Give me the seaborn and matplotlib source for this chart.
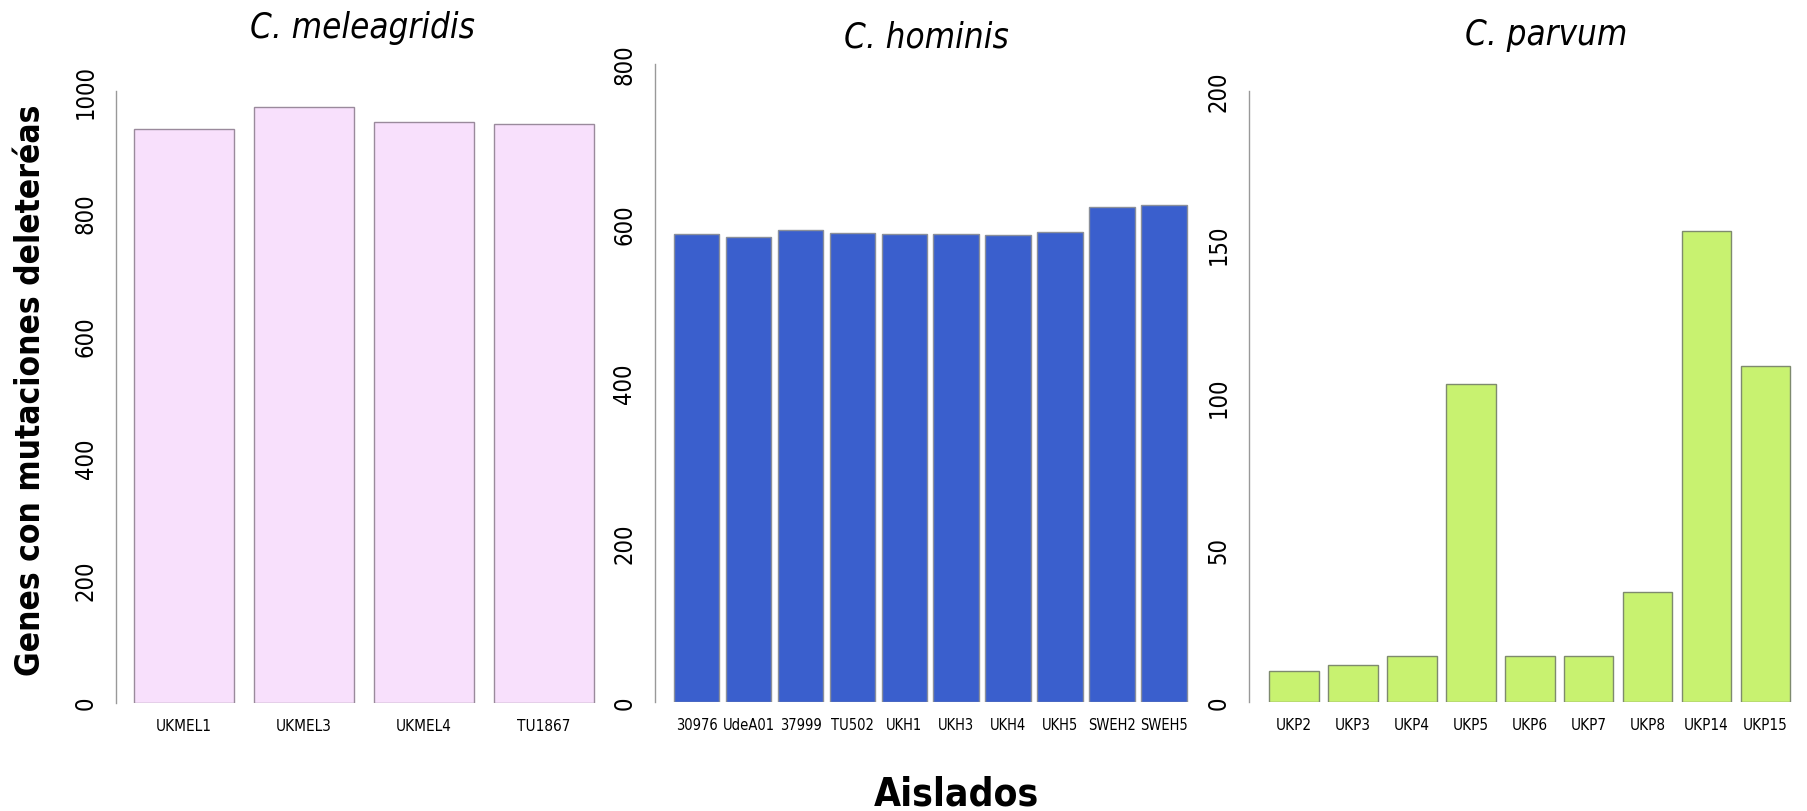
import matplotlib
matplotlib.use("Agg")
import matplotlib.pyplot as plt
import seaborn as sns
import pandas as pd

sns.set_style("white")
plt.rcParams['font.family'] = ['DejaVu Sans']
plt.rcParams['text.color'] = 'black'
plt.rcParams['xtick.color'] = 'black'
plt.rcParams['ytick.color'] = 'black'

# ---- data ----
mel_isolates = ["UKMEL1", "UKMEL3", "UKMEL4", "TU1867"]
mel_values = [937, 974, 949, 946]

hom_isolates = ["30976", "UdeA01", "37999", "TU502", "UKH1", "UKH3", "UKH4", "UKH5", "SWEH2", "SWEH5"]
hom_values = [587, 583, 591, 588, 587, 587, 585, 589, 620, 623]

par_isolates = ["UKP2", "UKP3", "UKP4", "UKP5", "UKP6", "UKP7", "UKP8", "UKP14", "UKP15"]
par_values = [10, 12, 15, 104, 15, 15, 36, 154, 110]

titles = ["C. meleagridis", "C. hominis", "C. parvum"]
y_label = "Genes con mutaciones deleteréas"
x_label = "Aislados"

W, H = 1807, 812
fig = plt.figure(figsize=(W / 100, H / 100), dpi=100)

def px_axes(left, right, bottom, top):
    return fig.add_axes([left / W, (H - bottom) / H, (right - left) / W, (bottom - top) / H])

panels = [
    dict(names=mel_isolates, vals=mel_values, color="#F8E0FC", edge="#9A8A9C",
         box=(116, 612, 703.5, 91.7), xlim=(-0.567, 3.567), width=0.833, ymax=1000,
         ticks=[0, 200, 400, 600, 800, 1000], title_xy=(362, 38), xfs=11),
    dict(names=hom_isolates, vals=hom_values, color="#3A5FCD", edge="#8A8F9A",
         box=(654.5, 1206, 703, 64.7), xlim=(-0.813, 9.813), width=0.877, ymax=800,
         ticks=[0, 200, 400, 600, 800], title_xy=(926, 47), xfs=10.5),
    dict(names=par_isolates, vals=par_values, color="#C8F270", edge="#7E8A6E",
         box=(1248.5, 1792, 703, 91.7), xlim=(-0.773, 8.45), width=0.84, ymax=200,
         ticks=[0, 50, 100, 150, 200], title_xy=(1546, 45), xfs=11),
]

for i, p in enumerate(panels):
    l, r, b, t = p["box"]
    ax = px_axes(l, r, b, t)
    df = pd.DataFrame({"isolate": p["names"], "value": p["vals"]})
    sns.barplot(data=df, x="isolate", y="value", color=p["color"], saturation=1,
                width=p["width"], edgecolor=p["edge"], linewidth=1.0, ax=ax)
    ax.set_xlim(*p["xlim"])
    ax.set_ylim(0, p["ymax"])
    ax.set_yticks(p["ticks"])
    ax.set_yticklabels([str(v) for v in p["ticks"]], rotation=90, va="center",
                       fontsize=17, stretch="condensed", color="black")
    ax.set_xticks(range(len(p["names"])))
    ax.set_xticklabels(p["names"], fontsize=p["xfs"], stretch="condensed", color="black")
    ax.tick_params(axis="x", length=0, pad=11)
    ax.tick_params(axis="y", length=5, width=1, color="#888888", pad=8)
    for s in ["top", "right", "bottom"]:
        ax.spines[s].set_visible(False)
    ax.spines["left"].set_color("#999999")
    ax.spines["left"].set_linewidth(1)
    ax.spines["left"].set_bounds(0, p["ymax"])
    ax.set_xlabel("")
    ax.set_ylabel("")
    ax.set_facecolor("white")
    ax.grid(False)
    tx, ty = p["title_xy"]
    fig.text(tx / W, (H - ty) / H, titles[i], ha="center", va="baseline",
             fontsize=25, style="italic", stretch="condensed", color="black")

fig.text(31 / W, (H - 390) / H, y_label, rotation=90, ha="center", va="center",
         fontsize=24, fontweight="bold", stretch="condensed", color="black")
fig.text(956 / W, (H - 806) / H, x_label, ha="center", va="baseline",
         fontsize=28, fontweight="bold", stretch="condensed", color="black")

fig.savefig("out.png", dpi=100, facecolor="white")
